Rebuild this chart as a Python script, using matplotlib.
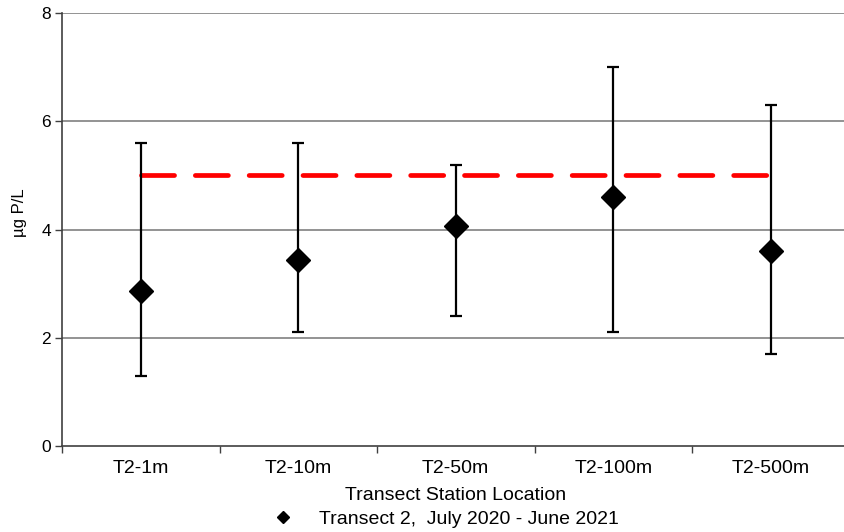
import matplotlib.pyplot as plt
from matplotlib.lines import Line2D
import numpy as np

plt.rcParams['font.family'] = ['Liberation Sans', 'DejaVu Sans']

stations = ['T2-1m', 'T2-10m', 'T2-50m', 'T2-100m', 'T2-500m']
mean_p = [2.87, 3.43, 4.07, 4.60, 3.60]
upper_p = [5.6, 5.6, 5.2, 7.0, 6.3]
lower_p = [1.3, 2.1, 2.4, 2.1, 1.7]
criterion = 5.0
series_name = 'Transect 2,  July 2020 - June 2021'

x = np.arange(len(stations))
mean_arr = np.array(mean_p)
yerr = [mean_arr - np.array(lower_p), np.array(upper_p) - mean_arr]

fig = plt.figure(figsize=(8.45, 5.32), dpi=100)
ax = fig.add_axes([62/845, 1 - 446/532, (849.5 - 62)/845, (446 - 13)/532])

for gy in [2, 4, 6, 8]:
    ax.axhline(gy, color='#808080', linewidth=1.2, zorder=1)

ax.plot([x[0], x[-1]], [criterion, criterion], color='#ff0000', linewidth=3.4,
        dashes=(7.0, 4.4), dash_capstyle='round', zorder=2)

ax.errorbar(x, mean_p, yerr=yerr, fmt='D', color='black', markersize=12,
            ecolor='black', elinewidth=1.6, capsize=4.5, capthick=1.6, zorder=3)

ax.set_xlim(-0.5, 4.5)
ax.set_ylim(0, 8)
ax.set_yticks([0, 2, 4, 6, 8])
ax.set_xticks(x)
ax.set_xticklabels(stations, fontsize=14)
ax.set_xticks(np.arange(-0.5, 5, 1), minor=True)
ax.tick_params(axis='x', which='major', length=0, pad=10)
ax.tick_params(axis='x', which='minor', length=5, width=1, color='#404040')
ax.tick_params(axis='y', length=5, width=1, color='#404040', labelsize=12.5, pad=3)
for s in ['top', 'right']:
    ax.spines[s].set_visible(False)
ax.spines['left'].set_color('#404040')
ax.spines['bottom'].set_color('#404040')
ax.spines['left'].set_linewidth(1.2)
ax.spines['bottom'].set_linewidth(1.2)

ax.set_ylabel('µg P/L', fontsize=12)
ax.yaxis.set_label_coords(-0.044, 0.538)
ax.set_xlabel('Transect Station Location', fontsize=14, labelpad=7)

handle = Line2D([], [], marker='D', color='black', linestyle='none', markersize=6)
fig.legend([handle], [series_name], loc='center', bbox_to_anchor=(444/845, 1 - 519/532),
           frameon=False, fontsize=14, handlelength=1.5, handletextpad=1.1)

fig.savefig('out.png', dpi=100)
